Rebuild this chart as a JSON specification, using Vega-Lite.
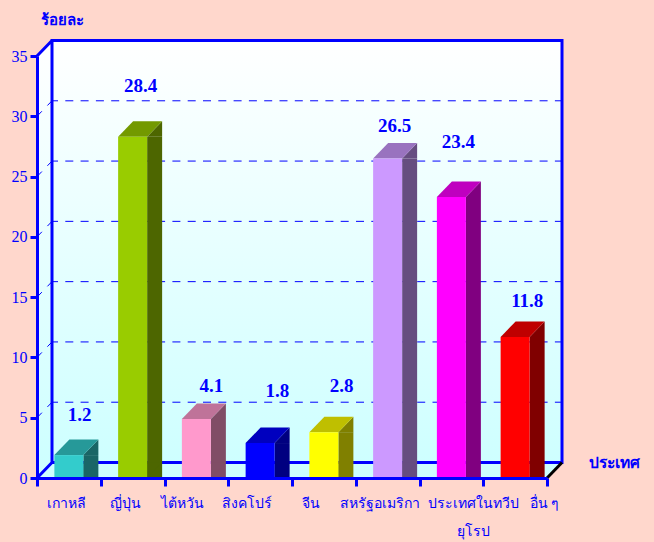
{
"$schema":"https://vega.github.io/schema/vega-lite/v6.json",
"width":510,"height":422,"autosize":"none",
"padding":{"left":37,"top":56,"right":107,"bottom":64},
"background":"#FFD7CC",
"config":{"view":{"stroke":null},"text":{"font":"Liberation Serif"}},
"datasets":{
"rows":[
{"c":"เกาหลี","v":1.9,"t":"1.2","tx":0.667,"ty":5.2},
{"c":"ญี่ปุ่น","v":28.3,"t":"28.4","tx":1.624,"ty":32.5},
{"c":"ไต้หวัน","v":4.9,"t":"4.1","tx":2.737,"ty":7.6},
{"c":"สิงคโปร์","v":2.9,"t":"1.8","tx":3.77,"ty":7.2},
{"c":"จีน","v":3.8,"t":"2.8","tx":4.78,"ty":7.6},
{"c":"สหรัฐอเมริกา","v":26.5,"t":"26.5","tx":5.61,"ty":29.2},
{"c":"ประเทศในทวีปยุโรป","v":23.3,"t":"23.4","tx":6.61,"ty":27.9},
{"c":"อื่น ๆ","v":11.7,"t":"11.8","tx":7.69,"ty":14.7}
],
"levels":[{"l":5},{"l":10},{"l":15},{"l":20},{"l":25},{"l":30}]
},
"layer":[
{"data":{"values":[{"a":0}]},
 "mark":{"type":"point","shape":"M0,0 L0,-422 L15,-437.5 L525,-437.5 L525,-15.5 L510,0 Z","size":4,"filled":true,"opacity":1,"strokeWidth":0,
  "fill":{"gradient":"linear","x1":0,"y1":0,"x2":0,"y2":1,"stops":[{"offset":0,"color":"#FFFFFF"},{"offset":1,"color":"#CCFFFF"}]}},
 "encoding":{"x":{"datum":0,"type":"quantitative","scale":{"domain":[0,8]},"axis":null},"y":{"datum":0,"type":"quantitative","scale":{"domain":[0,35],"nice":false},"axis":null}}},
{"data":{"name":"levels"},
 "mark":{"type":"rule","stroke":"#0000FF","strokeWidth":1,"strokeDash":[8,7.3],"strokeDashOffset":2,"xOffset":15,"x2Offset":15,"yOffset":-15.5,"y2Offset":-15.5},
 "encoding":{"x":{"datum":0,"type":"quantitative","scale":{"domain":[0,8]},"axis":null},"x2":{"datum":8},"y":{"field":"l","type":"quantitative","axis":null}}},
{"data":{"name":"levels"},
 "mark":{"type":"point","shape":"M0,0 L15,-15.5","size":4,"opacity":1,"filled":false,"stroke":"#0000FF","strokeWidth":1,"strokeDash":[7,8]},
 "encoding":{"x":{"datum":0,"type":"quantitative","scale":{"domain":[0,8]},"axis":null},"y":{"field":"l","type":"quantitative","axis":null}}},
{"data":{"values":[{"a":0}]},
 "mark":{"type":"point","shape":"M15,-437.5 L525,-437.5 L525,-15.5 L15,-15.5 Z M15,-437.5 L0,-422 M0,0 L15,-15.5","size":4,"opacity":1,"filled":false,"stroke":"#0000FF","strokeWidth":3},
 "encoding":{"x":{"datum":0,"type":"quantitative","scale":{"domain":[0,8]},"axis":null},"y":{"datum":0,"type":"quantitative","axis":null}}},
{"data":{"name":"rows"},
 "mark":{"type":"bar","width":15,"xOffset":22,"y2Offset":-15.5},
 "encoding":{"x":{"field":"c","type":"nominal","sort":null,"scale":{"paddingInner":0,"paddingOuter":0},"axis":null},"y":{"field":"v","type":"quantitative","axis":null},
  "fill":{"field":"c","type":"nominal","legend":null,"scale":{"domain":["เกาหลี","ญี่ปุ่น","ไต้หวัน","สิงคโปร์","จีน","สหรัฐอเมริกา","ประเทศในทวีปยุโรป","อื่น ๆ"],"range":["#1A6666","#4D6600","#804D66","#000080","#808000","#664D80","#800080","#800000"]}}}},
{"data":{"name":"rows"},
 "mark":{"type":"point","shape":"M14.5,0 L29.5,-15.5 L29.5,0 Z","size":4,"filled":true,"opacity":1,"strokeWidth":0},
 "encoding":{"x":{"field":"c","type":"nominal","sort":null,"scale":{"paddingInner":0,"paddingOuter":0},"axis":null},"y":{"field":"v","type":"quantitative","axis":null},
  "fill":{"field":"c","type":"nominal","legend":null,"scale":{"domain":["เกาหลี","ญี่ปุ่น","ไต้หวัน","สิงคโปร์","จีน","สหรัฐอเมริกา","ประเทศในทวีปยุโรป","อื่น ๆ"],"range":["#1A6666","#4D6600","#804D66","#000080","#808000","#664D80","#800080","#800000"]}}}},
{"data":{"name":"rows"},
 "mark":{"type":"point","shape":"M14.5,0 L14.5,-15.5 L29.5,-15.5 Z","size":4,"filled":true,"opacity":1,"strokeWidth":0},
 "encoding":{"x":{"field":"c","type":"nominal","sort":null,"scale":{"paddingInner":0,"paddingOuter":0},"axis":null},"y":{"datum":0,"type":"quantitative","axis":null},
  "fill":{"field":"c","type":"nominal","legend":null,"scale":{"domain":["เกาหลี","ญี่ปุ่น","ไต้หวัน","สิงคโปร์","จีน","สหรัฐอเมริกา","ประเทศในทวีปยุโรป","อื่น ๆ"],"range":["#1A6666","#4D6600","#804D66","#000080","#808000","#664D80","#800080","#800000"]}}}},
{"data":{"name":"rows"},
 "mark":{"type":"point","shape":"M-14.5,0 L0.5,-15.5 L29.5,-15.5 L14.5,0 Z","size":4,"filled":true,"opacity":1,"strokeWidth":0},
 "encoding":{"x":{"field":"c","type":"nominal","sort":null,"scale":{"paddingInner":0,"paddingOuter":0},"axis":null},"y":{"field":"v","type":"quantitative","axis":null},
  "fill":{"field":"c","type":"nominal","legend":null,"scale":{"domain":["เกาหลี","ญี่ปุ่น","ไต้หวัน","สิงคโปร์","จีน","สหรัฐอเมริกา","ประเทศในทวีปยุโรป","อื่น ๆ"],"range":["#269999","#739900","#BF7399","#0000BF","#BFBF00","#9973BF","#BF00BF","#BF0000"]}}}},
{"data":{"name":"rows"},
 "mark":{"type":"bar","width":29},
 "encoding":{"x":{"field":"c","type":"nominal","sort":null,"scale":{"paddingInner":0,"paddingOuter":0},
   "axis":{"title":"ประเทศ","titleX":551,"titleY":-16,"titleAlign":"left","titleBaseline":"middle","titleFont":"Liberation Serif","titleFontSize":15.5,"titleFontWeight":"bold","titleColor":"#0000FF",
    "domainColor":"#0000FF","domainWidth":3,"tickColor":"#0000FF","tickWidth":3,"tickSize":8,"tickBand":"extent","labelAngle":0,"labelColor":"#0000FF","labelFont":"Liberation Serif","labelFontSize":14,"labelPadding":10,"labelLineHeight":28,"labelOverlap":false,"labelBound":false,"labelLimit":0,"zindex":1,
    "labelExpr":"datum.value=='ประเทศในทวีปยุโรป'?['ประเทศในทวีป','ยุโรป']:datum.value",
    "encoding":{"labels":{"dx":{"value":{"expr":"datum.index<0.07?-3:datum.index<0.2?-8:datum.index<0.35?-14:datum.index<0.5?-14:datum.index<0.65?-13:datum.index<0.8?-8:datum.index<0.93?22:29"}}}}}},
  "y":{"field":"v","type":"quantitative","scale":{"domain":[0,35],"nice":false},
   "axis":{"title":"ร้อยละ","titleX":3,"titleY":-37,"titleAngle":0,"titleAlign":"left","titleBaseline":"middle","titleFont":"Liberation Serif","titleFontSize":15,"titleFontWeight":"bold","titleColor":"#0000FF",
    "values":[0,5,10,15,20,25,30,35],"grid":false,"domainColor":"#0000FF","domainWidth":3,"tickColor":"#0000FF","tickWidth":3,"tickSize":7,"labelColor":"#0000FF","labelFont":"Liberation Serif","labelFontSize":16,"labelPadding":3,"zindex":1}},
  "fill":{"field":"c","type":"nominal","legend":null,"scale":{"domain":["เกาหลี","ญี่ปุ่น","ไต้หวัน","สิงคโปร์","จีน","สหรัฐอเมริกา","ประเทศในทวีปยุโรป","อื่น ๆ"],"range":["#33CCCC","#99CC00","#FF99CC","#0000FF","#FFFF00","#CC99FF","#FF00FF","#FF0000"]}}}},
{"data":{"name":"rows"},
 "mark":{"type":"text","font":"Liberation Serif","fontSize":19,"fontWeight":"bold","color":"#0000FF","baseline":"middle","align":"center"},
 "encoding":{"x":{"field":"tx","type":"quantitative","scale":{"domain":[0,8]},"axis":null},"y":{"field":"ty","type":"quantitative","axis":null},"text":{"field":"t"}}},
{"data":{"values":[{"a":0}]},
 "mark":{"type":"point","shape":"M510,0 L525,-15.5","size":4,"opacity":1,"filled":false,"stroke":"#000000","strokeWidth":3},
 "encoding":{"x":{"datum":0,"type":"quantitative","scale":{"domain":[0,8]},"axis":null},"y":{"datum":0,"type":"quantitative","axis":null}}}
],
"resolve":{"scale":{"x":"independent","fill":"independent"},"axis":{"x":"independent","y":"independent"}}
}
